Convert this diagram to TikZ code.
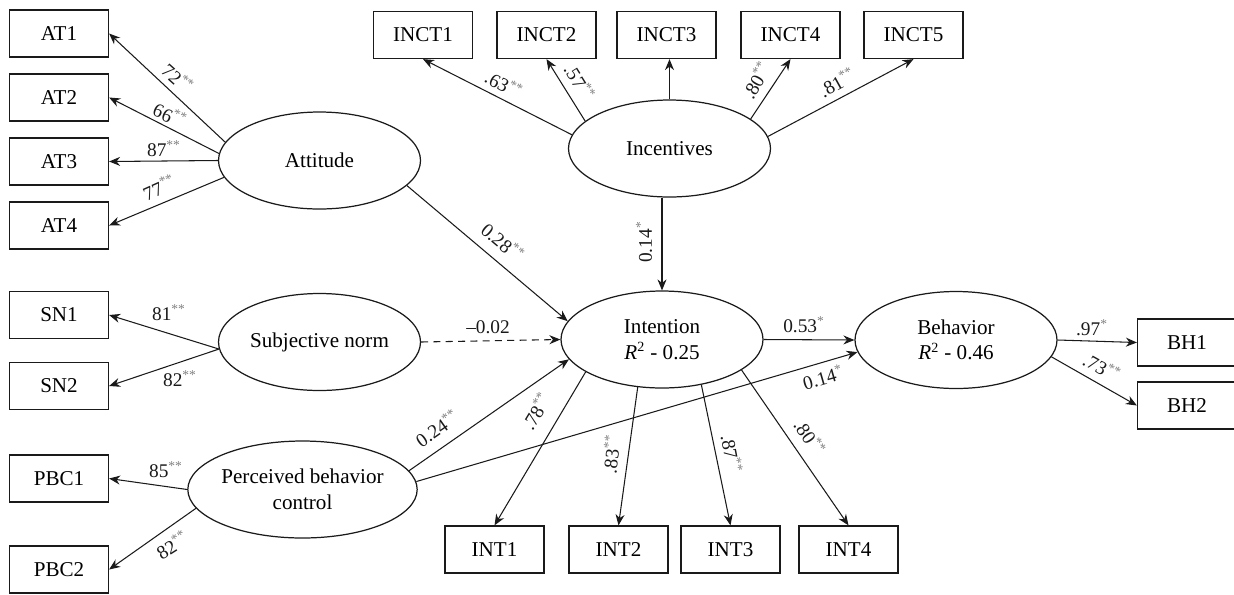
\documentclass[tikz,border=0pt]{standalone}
\usepackage{fontspec}
\setmainfont{Liberation Serif}
\usepackage{xcolor}
\usetikzlibrary{shapes.geometric,arrows.meta}
\definecolor{ink}{HTML}{1A1A1A}
\definecolor{starc}{HTML}{808080}
\newcommand{\stars}[1]{\textsuperscript{\color{starc}#1}}
\tikzset{
  obs/.style={draw=ink, line width=0.7pt, minimum width=1.98cm, minimum height=0.94cm, inner sep=0pt, font=\fontsize{12}{13}\selectfont},
  lat/.style={ellipse, draw=ink, line width=0.7pt, minimum width=4.04cm, minimum height=1.94cm, inner sep=0pt, align=center, font=\fontsize{12}{14.5}\selectfont},
  arr/.style={draw=ink, line width=0.6pt, -{Stealth[length=2.2mm,width=1.8mm]}},
  lab/.style={text=ink, font=\fontsize{11}{12}\selectfont, inner sep=0.5pt},
}

\begin{document}
\begin{tikzpicture}
  \useasboundingbox (0,0) rectangle (24.68,-11.88);

  % latent constructs
  \node[lat] (Att)  at (6.39,-3.21)  {Attitude};
  \node[lat] (Inc)  at (13.39,-2.97) {Incentives};
  \node[lat] (Subj) at (6.39,-6.84)  {Subjective norm};
  \node[lat] (Pbc)  at (6.05,-9.79)  {Perceived behavior\\control};
  \node[lat] (Int)  at (13.24,-6.79) {Intention\\\textit{R}\textsuperscript{2} - 0.25};
  \node[lat] (Beh)  at (19.12,-6.80) {Behavior\\\textit{R}\textsuperscript{2} - 0.46};

  % indicators
  \foreach \n/\y in {1/-0.67,2/-1.95,3/-3.23,4/-4.51}
    \node[obs] (AT\n) at (1.18,\y) {AT\n};
  \foreach \n/\x in {1/8.46,2/10.93,3/13.33,4/15.81,5/18.27}
    \node[obs] (INCT\n) at (\x,-0.70) {INCT\n};
  \foreach \n/\x in {1/9.89,2/12.37,3/14.61,4/16.97}
    \node[obs] (INT\n) at (\x,-10.99) {INT\n};
  \node[obs] (SN1)  at (1.18,-6.30)  {SN1};
  \node[obs] (SN2)  at (1.18,-7.72)  {SN2};
  \node[obs] (PBC1) at (1.18,-9.57)  {PBC1};
  \node[obs] (PBC2) at (1.18,-11.39) {PBC2};
  \node[obs] (BH1)  at (23.74,-6.85) {BH1};
  \node[obs] (BH2)  at (23.74,-8.11) {BH2};

  % loadings
  \draw[arr] (Att.169) -- (AT1.east);
  \draw[arr] (Att.176) -- (AT2.east);
  \draw[arr] (Att.west) -- (AT3.east);
  \draw[arr] (Att.190) -- (AT4.east);

  \draw[arr] (Inc.172) -- (INCT1.south);
  \draw[arr] (Inc.162) -- (INCT2.south);
  \draw[arr] (Inc.north) -- (Inc.north |- INCT3.south);
  \draw[arr] (Inc.20) -- (INCT4.south);
  \draw[arr] (Inc.7) -- (INCT5.south);

  \draw[arr] (Subj.184) -- (SN1.east);
  \draw[arr] (Subj.184) -- (SN2.east);

  \draw[arr] (Pbc.west) -- (PBC1.east);
  \draw[arr] (Pbc.190) -- (PBC2.east);

  \draw[arr] (Int.203) -- (INT1.north);
  \draw[arr] (Int.243) -- (INT2.north);
  \draw[arr] (Int.311) -- (INT3.north);
  \draw[arr] (Int.339) -- (INT4.north);

  \draw[arr] (Beh.east) -- (BH1.west);
  \draw[arr] (Beh.350) -- (BH2.west);

  % structural paths
  \draw[arr] (Att.344) -- (Int.169);
  \draw[arr] (Int.north |- Inc.south) -- (Int.north);
  \draw[arr, dash pattern=on 4pt off 3pt] (Subj.east) -- (Int.west);
  \draw[arr] (Pbc.10) -- (Int.192);
  \draw[arr] (Pbc.4) -- (Beh.187);
  \draw[arr] (Int.east) -- (Beh.west);

  % estimates
  \node[lab, rotate=-42] (wAT1) at (3.56,-1.56) {72\stars{**}};
  \node[lab, rotate=-25] (wAT2) at (3.40,-2.30) {66\stars{**}};
  \node[lab]             (wAT3) at (3.28,-2.98) {87\stars{**}};
  \node[lab, rotate=24]  (wAT4) at (3.18,-3.74) {77\stars{**}};

  \node[lab, rotate=-28] (wINCT1) at (10.08,-1.68) {.63\stars{**}};
  \node[lab, rotate=-58] (wINCT2) at (11.60,-1.64) {.57\stars{**}};
  \node[lab, rotate=60]  (wINCT4) at (15.12,-1.60) {.80\stars{**}};
  \node[lab, rotate=29]  (wINCT5) at (16.74,-1.64) {.81\stars{**}};

  \node[lab] (wSN1) at (3.38,-6.26) {81\stars{**}};
  \node[lab] (wSN2) at (3.60,-7.58) {82\stars{**}};

  \node[lab]            (wPBC1) at (3.32,-9.40)  {85\stars{**}};
  \node[lab, rotate=32] (wPBC2) at (3.44,-10.90) {82\stars{**}};

  \node[lab, rotate=59]  (wINT1) at (10.72,-8.22) {.78\stars{**}};
  \node[lab, rotate=83]  (wINT2) at (12.22,-9.08) {.83\stars{**}};
  \node[lab, rotate=-79] (wINT3) at (14.64,-9.08) {.87\stars{**}};
  \node[lab, rotate=-56] (wINT4) at (16.20,-8.74) {.80\stars{**}};

  \node[lab]             (wBH1) at (21.84,-6.56) {.97\stars{*}};
  \node[lab, rotate=-29] (wBH2) at (22.04,-7.34) {.73\stars{**}};

  \node[lab, rotate=-40] (wAtt) at (10.06,-4.84) {0.28\stars{**}};
  \node[lab, rotate=90]  (wInc) at (12.88,-4.84) {0.14\stars{*}};
  \node[lab]             (wSubj) at (9.76,-6.54) {--0.02};
  \node[lab, rotate=35]  (wPbcI) at (8.74,-8.56) {0.24\stars{**}};
  \node[lab, rotate=16]  (wPbcB) at (16.46,-7.54) {0.14\stars{*}};
  \node[lab]             (wIntB) at (16.08,-6.50) {0.53\stars{*}};
\end{tikzpicture}
\end{document}
